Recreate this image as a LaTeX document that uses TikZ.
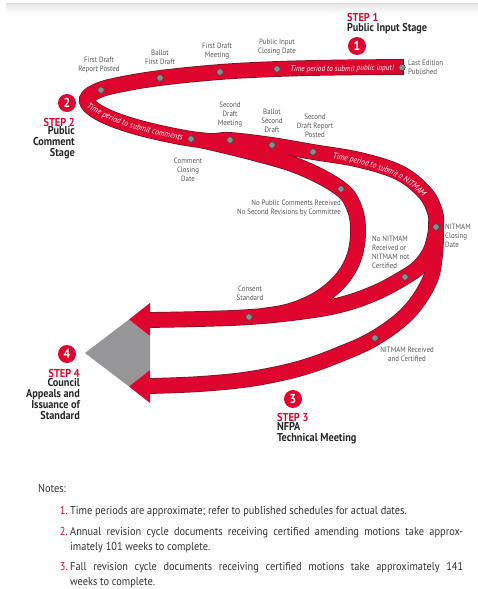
\documentclass[tikz,border=0pt]{standalone}
\usepackage{fontspec}
\setmainfont{PT Sans}[FakeStretch=0.9]
\usetikzlibrary{decorations.text}
\definecolor{nfred}{RGB}{222,6,46}
\definecolor{redge}{RGB}{110,20,35}
\definecolor{dotgray}{RGB}{140,140,142}
\definecolor{dotedge}{RGB}{70,70,70}
\definecolor{lblgray}{RGB}{85,85,85}
\definecolor{notegray}{RGB}{50,50,50}
\definecolor{diagray}{RGB}{150,150,152}
\newcommand\ribfont{\fontsize{8.4}{9}\selectfont\itshape\color{white}}
\newcommand\ribfonttop{\fontsize{8.0}{9}\selectfont\itshape\color{white}}
\begin{document}
\begin{tikzpicture}[x=1pt,y=-1pt,
  lbl/.style={font=\fontsize{7.7}{9}\selectfont, text=lblgray, align=center, inner sep=0pt},
  dotnode/.style={circle, fill=dotgray, draw=dotedge, line width=0.7pt, minimum size=6.6pt, inner sep=0pt},
  stepcirc/.style={circle, fill=nfred, minimum size=18pt, inner sep=0pt, text=white, font=\fontsize{13}{13}\selectfont\bfseries},
  steptag/.style={font=\fontsize{11.5}{12}\selectfont\bfseries, text=nfred, inner sep=0pt},
  stepname/.style={font=\fontsize{11.4}{11}\selectfont\bfseries, text=black!85, inner sep=0pt},
  notetext/.style={font=\fontsize{11.5}{14}\selectfont, text=notegray, inner sep=0pt, anchor=base west},
  notenum/.style={font=\fontsize{11.5}{14}\selectfont, text=nfred, inner sep=0pt, anchor=base east},
  ribtext/.style={decorate, decoration={text along path, raise=-2.9pt, #1}},
]
\useasboundingbox (0,0) rectangle (478,589);
\shade[top color=black!12, bottom color=white] (6,3) rectangle (478,13);

% ribbons: outlines first, then fills
\foreach \ribw/\ribc in {15.8pt/redge,14.4pt/nfred}{
  \draw[line width=\ribw, color=\ribc] plot[smooth, tension=0.6] coordinates {
    (403.4,67) (340,67.5) (277,69) (220,72) (160,78) (118,85) (97,91) (87,99) (92,108)
    (110,118) (140,128) (180,137) (210,141) (230,140) (272,145) (313,152) (360,160)
    (400,173) (425,193) (435,212) (436,227) (435,255) (429,282) (408,313) (375,338)
    (338,355) (298,369) (250,379) (200,384) (150,386)};
  \draw[line width=\ribw, color=\ribc] plot[smooth, tension=0.6] coordinates {
    (200,140) (250,152) (300,167) (341,189) (355,210) (358,235) (353,260) (340,281)
    (318,299) (290,311) (262,316)};
  \draw[line width=\ribw, color=\ribc] plot[smooth, tension=0.6] coordinates {
    (436,230) (431,250) (420,266) (405,277) (375,293) (340,305) (300,312) (250,317)
    (200,319) (150,320)};
}
\draw[redge, line width=0.8pt] (403.6,59.1) -- (403.6,74.9);

% step 4 box and arrow heads
\fill[diagray] (85,353) -- (129,319.5) -- (150,336) -- (150,370) -- (129,386.5) -- cycle;
\fill[nfred] (129,319.5) -- (150,303) -- (150,336) -- cycle;
\fill[nfred] (129,386.5) -- (150,370) -- (150,403) -- cycle;

% ribbon texts
\path[ribtext={text align=center, text={|\ribfonttop|Time period to submit public input!}}] (270,69.3) -- (414,67.3);
\path[ribtext={text align=left, text={|\ribfont|Time period to submit comments}}]
  (88,105) .. controls (115,122) and (150,133) .. (205,141);
\path[ribtext={text align=left, text={|\ribfont|Time period to submit a NITMAM}}]
  (333,155.5) .. controls (380,163) and (422,178) .. (437,215);

% milestones
\node[dotnode] (d1) at (402,67.5) {};
\node[dotnode] (d2) at (277,69) {};
\node[dotnode] (d3) at (220,72) {};
\node[dotnode] (d4) at (160,78) {};
\node[dotnode] (d5) at (101,90) {};
\node[dotnode] (d6) at (191,139) {};
\node[dotnode] (d7) at (230,140) {};
\node[dotnode] (d8) at (272,145) {};
\node[dotnode] (d9) at (313,152) {};
\node[dotnode] (d10) at (341,189) {};
\node[dotnode] (d11) at (436,227) {};
\node[dotnode] (d12) at (405,277) {};
\node[dotnode] (d13) at (249,317) {};
\node[dotnode] (d14) at (375,338) {};

\node[lbl, anchor=west, align=left] (l1) at (408,67) {Last Edition\\Published};
\node[lbl] (l2) at (277,47.5) {Public Input\\Closing Date};
\node[lbl] (l3) at (217,51.5) {First Draft\\Meeting};
\node[lbl] (l4) at (160,57.5) {Ballot\\First Draft};
\node[lbl] (l5) at (99,65.5) {First Draft\\Report Posted};
\node[lbl] (l6) at (188,169.5) {Comment\\Closing\\Date};
\node[lbl] (l7) at (230,115) {Second\\Draft\\Meeting};
\node[lbl] (l8) at (272,121) {Ballot\\Second\\Draft};
\node[lbl] (l9) at (315,126) {Second\\Draft Report\\Posted};
\node[lbl, anchor=east, align=right] (l10) at (341,208.5) {No Public Comments Received\\No Second Revisions by Committee};
\node[lbl, anchor=west, align=left] (l11) at (445,235.5) {NITMAM\\Closing\\Date};
\node[lbl, anchor=west, align=left] (l12) at (372,252) {No NITMAM\\Received or\\NITMAM not\\Certified};
\node[lbl] (l13) at (250,293.5) {Consent\\Standard};
\node[lbl] (l14) at (407,354) {NITMAM Received\\and Certified};

% steps
\node[stepcirc] (s1) at (357,46) {1};
\node[steptag, anchor=west] (s1t) at (347,17) {STEP 1};
\node[stepname, anchor=west] (s1n) at (347,29) {Public Input Stage};

\node[stepcirc] (s2) at (67,103) {2};
\node[steptag, anchor=east] (s2t) at (75,122) {STEP 2};
\node[stepname, anchor=east, align=right] (s2n) at (75,143) {Public\\Comment\\Stage};

\node[stepcirc] (s3) at (293,399) {3};
\node[steptag, anchor=west] (s3t) at (277,417) {STEP 3};
\node[stepname, anchor=west, align=left] (s3n) at (277,433.5) {NFPA\\Technical Meeting};

\node[stepcirc] (s4) at (67,354) {4};
\node[steptag, anchor=east] (s4t) at (80,373) {STEP 4};
\node[stepname, anchor=east, align=right] (s4n) at (80,399.5) {Council\\Appeals and\\Issuance of\\Standard};

% notes
\node[notetext] (notes) at (38,492) {Notes:};
\node[notenum] (n1num) at (68,514) {1.};
\node[notetext] (n1) at (70,514) {Time periods are approximate; refer to published schedules for actual dates.};
\node[notenum] (n2num) at (68,535) {2.};
\node[notetext] (n2) at (70,535) {\makebox[393pt][s]{Annual revision cycle documents receiving certified amending motions take approx-}};
\node[notetext] (n2b) at (70,550) {imately 101 weeks to complete.};
\node[notenum] (n3num) at (68,570) {3.};
\node[notetext] (n3) at (70,570) {\makebox[393pt][s]{Fall revision cycle documents receiving certified motions take approximately 141}};
\node[notetext] (n3b) at (70,585) {weeks to complete.};
\end{tikzpicture}
\end{document}
